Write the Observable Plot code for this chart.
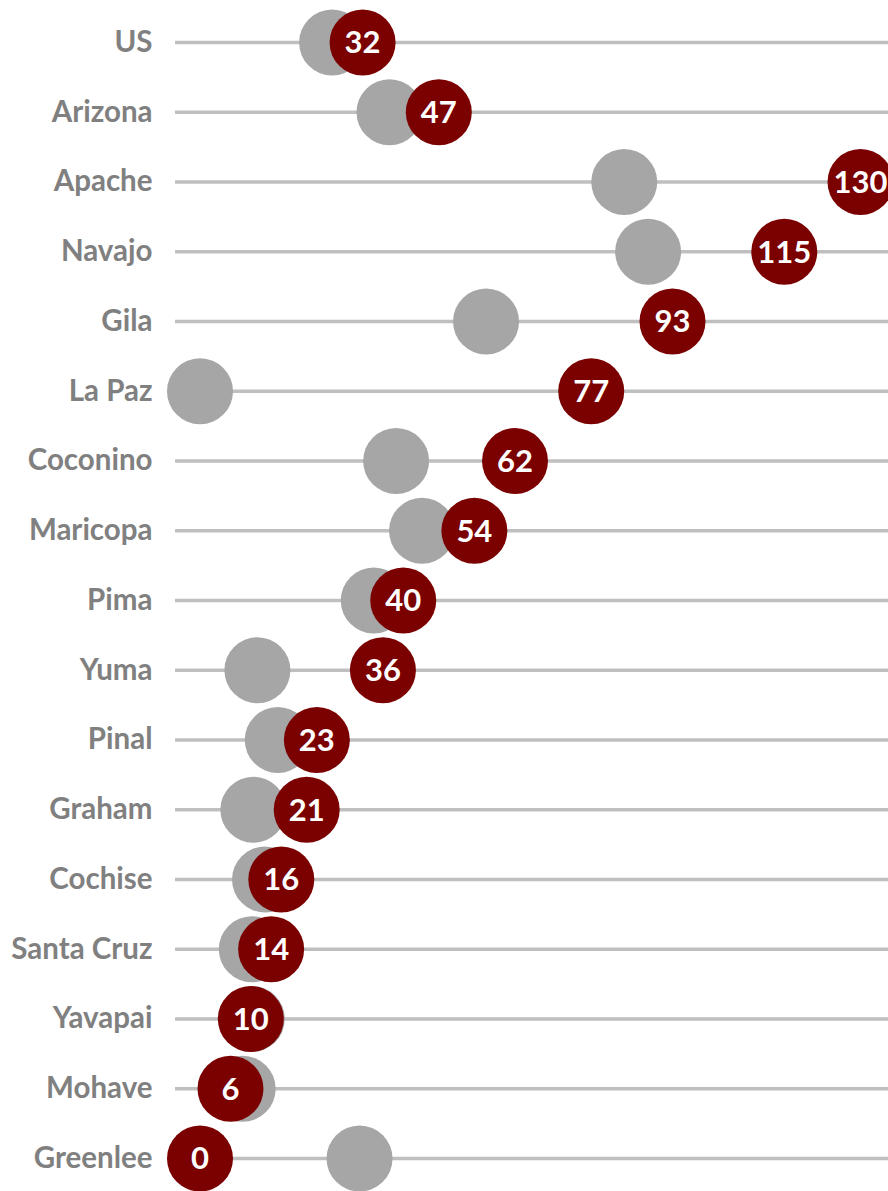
<!DOCTYPE html>
<html>
<head>
<meta charset="utf-8">
<script src="https://cdn.jsdelivr.net/npm/d3@7"></script>
<script src="https://cdn.jsdelivr.net/npm/@observablehq/plot@0.6"></script>
<style>
  html, body { margin: 0; padding: 0; background: #fff; overflow: hidden; }
  #chart svg { display: block; }
</style>
</head>
<body>
<div id="chart"></div>
<script>
const regions = ["US","Arizona","Apache","Navajo","Gila","La Paz","Coconino","Maricopa","Pima","Yuma","Pinal","Graham","Cochise","Santa Cruz","Yavapai","Mohave","Greenlee"];
const redValues = [32,47,130,115,93,77,62,54,40,36,23,21,16,14,10,6,0];
const grayValues = [26.0,37.3,83.5,88.2,56.3,0,38.6,43.7,34.2,11.3,15.3,10.5,12.8,10.2,10.2,8.4,31.4];

const data = regions.map((r, i) => ({region: r, red: redValues[i], gray: grayValues[i]}));

const chart = Plot.plot({
  width: 888,
  height: 1191,
  marginLeft: 175,
  marginRight: 0,
  marginTop: 42,
  marginBottom: 33,
  style: {fontFamily: "Lato, 'Open Sans', sans-serif", background: "#fff"},
  x: {domain: [0, 130], insetLeft: 24.5, insetRight: 28, axis: null},
  y: {type: "point", domain: regions, padding: 0, round: false, axis: null},
  marks: [
    Plot.ruleY(data, {y: "region", stroke: "#bfbfbf", strokeWidth: 3.5}),
    Plot.axisY({tickSize: 0, tickPadding: 23, fontSize: 29.5, fontWeight: "bold", fill: "#808080", label: null}),
    Plot.dot(data, {x: "gray", y: "region", r: 33, fill: "#a6a6a6"}),
    Plot.dot(data, {x: "red", y: "region", r: 33, fill: "#7b0000"}),
    Plot.text(data, {x: "red", y: "region", text: d => String(d.red), fill: "white", fontSize: 31, fontWeight: "bold", dy: 1})
  ]
});
document.getElementById("chart").appendChild(chart);
</script>
</body>
</html>
